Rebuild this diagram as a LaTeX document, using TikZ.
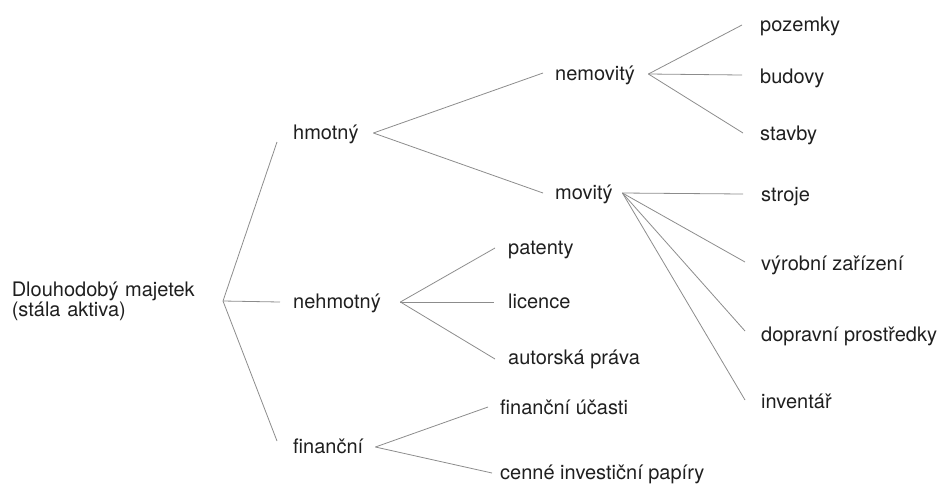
\documentclass[tikz,border=0pt]{standalone}
\usepackage{fontspec}
\setmainfont{TeX Gyre Heros}
\usetikzlibrary{calc}
\begin{document}
\begin{tikzpicture}[x=1pt,y=-1pt,
  lbl/.style={anchor=base west, inner sep=0pt, text height=14pt, text depth=2pt,
    align=left, font=\fontsize{20}{20}\selectfont, text=black!88},
  conn/.style={draw=black!45, line width=0.8pt}]
\useasboundingbox (0,0) rectangle (942,483);
% root
\node[anchor=east, align=left, text width=211pt, inner sep=0pt,
  font=\fontsize{20}{20}\selectfont, text=black!88] (root) at (223,301)
  {Dlouhodobý majetek\\(stála aktiva)};
% level 1
\node[lbl, text width=80pt] (hmot) at (293,139) {hmotný};
\node[lbl, text width=107pt] (nehm) at (293,308) {nehmotný};
\node[lbl, text width=82pt] (fin) at (293,453) {finanční};
% level 2
\node[lbl, text width=93pt] (nemov) at (555,80) {nemovitý};
\node[lbl, text width=67pt] (mov) at (555,199) {movitý};
% leaves
\node[lbl] (poz) at (760,31) {pozemky};
\node[lbl] (bud) at (760,83) {budovy};
\node[lbl] (stav) at (760,140) {stavby};
\node[lbl] (stro) at (761,201) {stroje};
\node[lbl] (vyr) at (761,270) {výrobní zařízení};
\node[lbl] (dop) at (761,341) {dopravní prostředky};
\node[lbl] (inv) at (761,408) {inventář};
\node[lbl] (pat) at (508,254) {patenty};
\node[lbl] (lic) at (508,308) {licence};
\node[lbl] (aut) at (508,364) {autorská práva};
\node[lbl] (ucas) at (500,414) {finanční účasti};
\node[lbl] (cen) at (500,479) {cenné investiční papíry};
% connectors
\draw[conn] (root.east) -- ($(hmot.west)+(-16,9)$);
\draw[conn] (root.east) -- ($(nehm.west)+(-13,0)$);
\draw[conn] (root.east) -- ($(fin.west)+(-16,-6)$);
\draw[conn] (hmot.east) -- ($(nemov.west)+(-12,-1)$);
\draw[conn] (hmot.east) -- ($(mov.west)+(-12,0)$);
\draw[conn] (nemov.east) -- ($(poz.west)+(-18,0)$);
\draw[conn] (nemov.east) -- ($(bud.west)+(-18,-2)$);
\draw[conn] (nemov.east) -- ($(stav.west)+(-17,-1)$);
\draw[conn] (mov.east) -- ($(stro.west)+(-18,-1)$);
\draw[conn] (mov.east) -- ($(vyr.west)+(-16,-2)$);
\draw[conn] (mov.east) -- ($(dop.west)+(-16,-4)$);
\draw[conn] (mov.east) -- ($(inv.west)+(-16,-2)$);
\draw[conn] (nehm.east) -- ($(pat.west)+(-13,0)$);
\draw[conn] (nehm.east) -- ($(lic.west)+(-14,0)$);
\draw[conn] (nehm.east) -- ($(aut.west)+(-13,1)$);
\draw[conn] (fin.east) -- ($(ucas.west)+(-12,-1)$);
\draw[conn] (fin.east) -- ($(cen.west)+(-8,0)$);
\end{tikzpicture}
\end{document}
